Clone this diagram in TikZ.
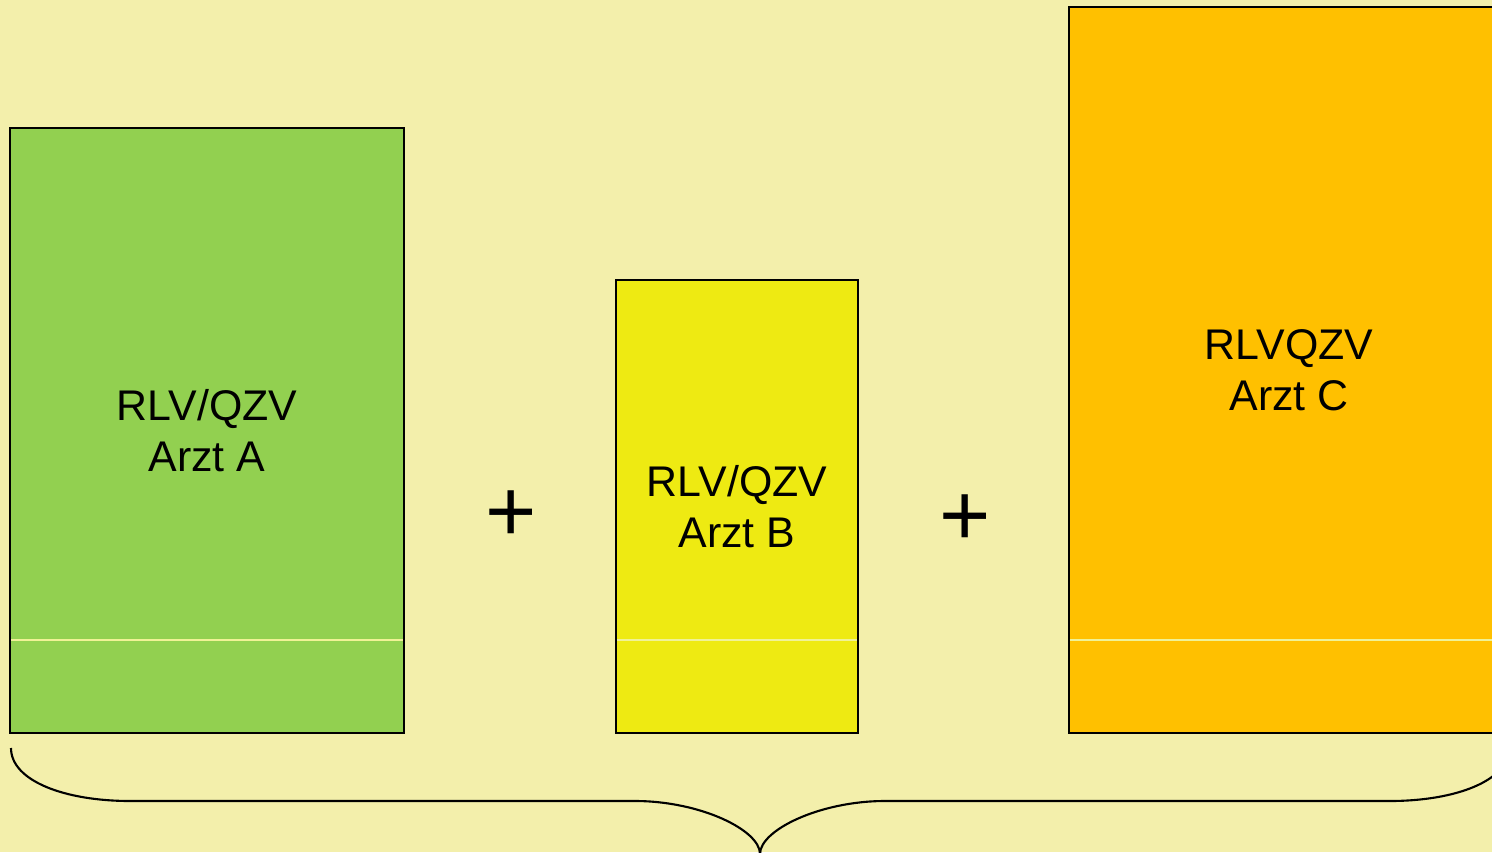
\documentclass[tikz,border=0pt]{standalone}
\usepackage{fontspec}
\setmainfont{Liberation Sans}
\definecolor{bgcol}{RGB}{243,239,171}
\definecolor{greenbox}{RGB}{146,208,80}
\definecolor{yellowbox}{RGB}{238,234,18}
\definecolor{orangebox}{RGB}{255,192,0}
\definecolor{splitcol}{RGB}{240,242,150}
\tikzset{
  share/.style={draw=black, line width=0.6pt, rectangle, inner sep=0pt,
    align=center, font=\fontsize{12.2}{14.6}\selectfont},
  plussign/.style={inner sep=0pt, font=\fontsize{25}{25}\selectfont},
  divider/.style={draw=splitcol, line width=0.45pt},
  bracestroke/.style={draw=black, line width=0.6pt}
}
\begin{document}
\begin{tikzpicture}[x=0.01cm, y=-0.01cm]
  \useasboundingbox (0,0) rectangle (1492,852);
  \clip (0,0) rectangle (1492,852);
  \fill[bgcol] (0,0) rectangle (1492,852);

  % the three shares
  \node[share, fill=greenbox, minimum width=3.94cm, minimum height=6.05cm]
    (A) at (207,430.5) {RLV/QZV\\Arzt A};
  \node[share, fill=yellowbox, minimum width=2.42cm, minimum height=4.53cm]
    (B) at (737,506.5) {RLV/QZV\\Arzt B};
  \node[share, fill=orangebox, minimum width=4.40cm, minimum height=7.26cm]
    (C) at (1289,370) {RLVQZV\\Arzt C};

  % thin split line near the bottom of each share
  \foreach \b in {A,B,C}
    \draw[divider] ([xshift=0.6pt, yshift=0.94cm]\b.south west)
                -- ([xshift=-0.6pt, yshift=0.94cm]\b.south east);

  % plus signs between the shares
  \node[plussign] (p1) at (511.5,516.5) {+};
  \node[plussign] (p2) at (965,520) {+};

  % brace underneath
  \coordinate (bl) at (11,748);
  \coordinate (l1) at (130,801);
  \coordinate (l2) at (635,801);
  \coordinate (tip) at (760,854);
  \coordinate (r1) at (885,801);
  \coordinate (r2) at (1390,801);
  \coordinate (br) at (1509,748);
  \draw[bracestroke]
    (bl) .. controls (11,781) and (65,801) .. (l1)
    -- (l2)
    .. controls (700,801) and (760,830) .. (tip)
    .. controls (760,830) and (820,801) .. (r1)
    -- (r2)
    .. controls (1455,801) and (1509,781) .. (br);
\end{tikzpicture}
\end{document}
